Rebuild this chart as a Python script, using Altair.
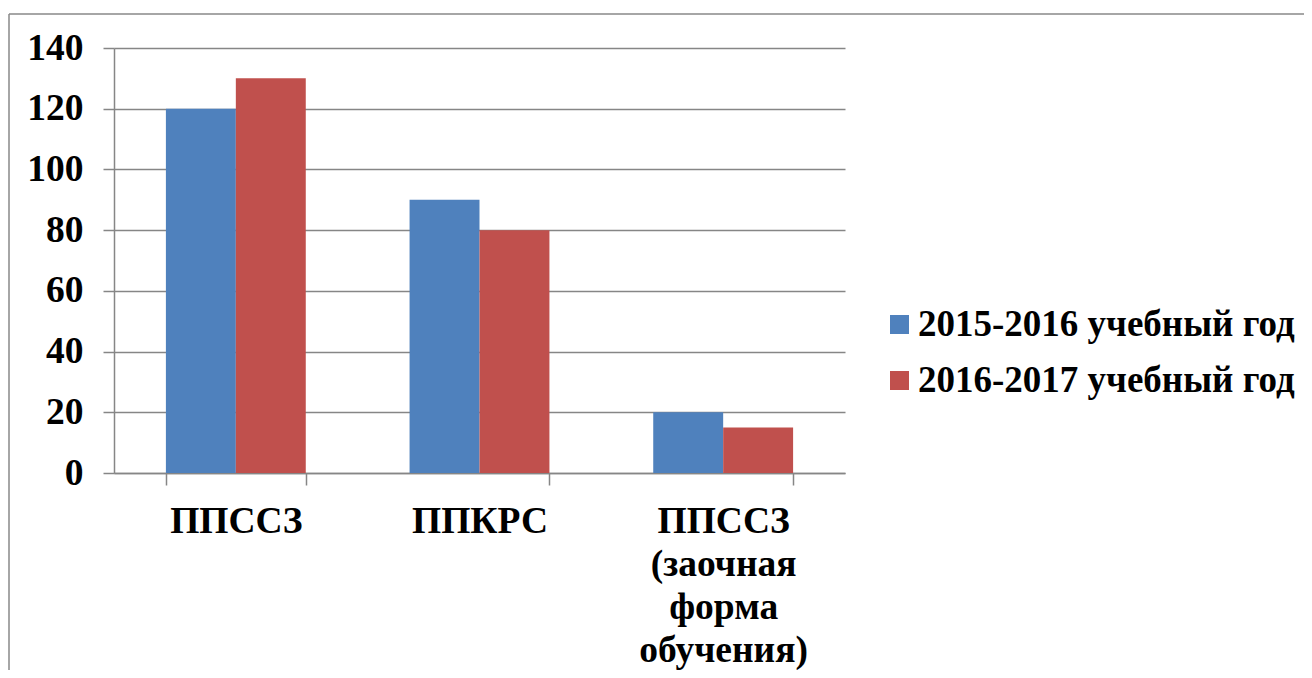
import altair as alt
import pandas as pd

categories = ["ППССЗ", "ППКРС", "ППССЗ|(заочная|форма|обучения)"]
series = ["2015-2016 учебный год", "2016-2017 учебный год"]
values_2015 = [120, 90, 20]
values_2016 = [130, 80, 15]
colors = ["#4F81BD", "#C0504D"]
y_ticks = [0, 20, 40, 60, 80, 100, 120, 140]

rows = []
for c, a, b in zip(categories, values_2015, values_2016):
    rows.append({"cat": c, "series": series[0], "value": a})
    rows.append({"cat": c, "series": series[1], "value": b})
df = pd.DataFrame(rows)

FONT = "Liberation Serif"
FS = 37.5
GRID = "#868686"

bars = alt.Chart(df).mark_bar().encode(
    x=alt.X("cat:N", sort=categories, title=None,
            scale=alt.Scale(paddingInner=0.426, paddingOuter=0.213),
            axis=alt.Axis(labelAngle=0, labelExpr="split(datum.label, '|')",
                          labelFont=FONT, labelFontWeight="bold", labelFontSize=FS,
                          labelColor="black", labelLineHeight=43, labelPadding=17,
                          tickBand="extent", tickSize=12, tickColor=GRID, tickWidth=1.5,
                          domainColor=GRID, domainWidth=1.5, grid=False)),
    xOffset=alt.XOffset("series:N", sort=series, scale=alt.Scale(paddingInner=0, paddingOuter=0)),
    y=alt.Y("value:Q", title=None,
            scale=alt.Scale(domain=[0, 140], nice=False),
            axis=alt.Axis(values=y_ticks, labelFont=FONT, labelFontWeight="bold",
                          labelFontSize=FS, labelColor="black", labelPadding=20,
                          tickSize=11, tickColor=GRID, tickWidth=1.5,
                          domainColor=GRID, domainWidth=1.5,
                          grid=True, gridColor=GRID, gridWidth=1.5)),
    color=alt.Color("series:N", sort=series, title=None,
                    scale=alt.Scale(domain=series, range=colors),
                    legend=alt.Legend(orient="none", legendX=767, legendY=258,
                                      symbolType="square", symbolSize=361,
                                      symbolStrokeWidth=0,
                                      labelFont=FONT, labelFontWeight="bold",
                                      labelFontSize=37, labelColor="black",
                                      labelLimit=600, rowPadding=18, labelOffset=0)),
)

frame_df = pd.DataFrame({"a": [0]})
top_line = alt.Chart(frame_df).mark_rule(color="#888888", strokeWidth=1.5).encode(
    x=alt.value(-105), x2=alt.value(1200), y=alt.value(-34))
left_line = alt.Chart(frame_df).mark_rule(color="#888888", strokeWidth=1.5).encode(
    x=alt.value(-105), y=alt.value(-34), y2=alt.value(660))

chart = alt.layer(bars, top_line, left_line).properties(
    width=731, height=425,
    padding={"left": 106, "top": 40, "right": 459, "bottom": 197},
    autosize=alt.AutoSizeParams(type="none"),
).configure_view(stroke=None)

chart.save("out.html", embed_options={"renderer": "svg", "actions": False})
